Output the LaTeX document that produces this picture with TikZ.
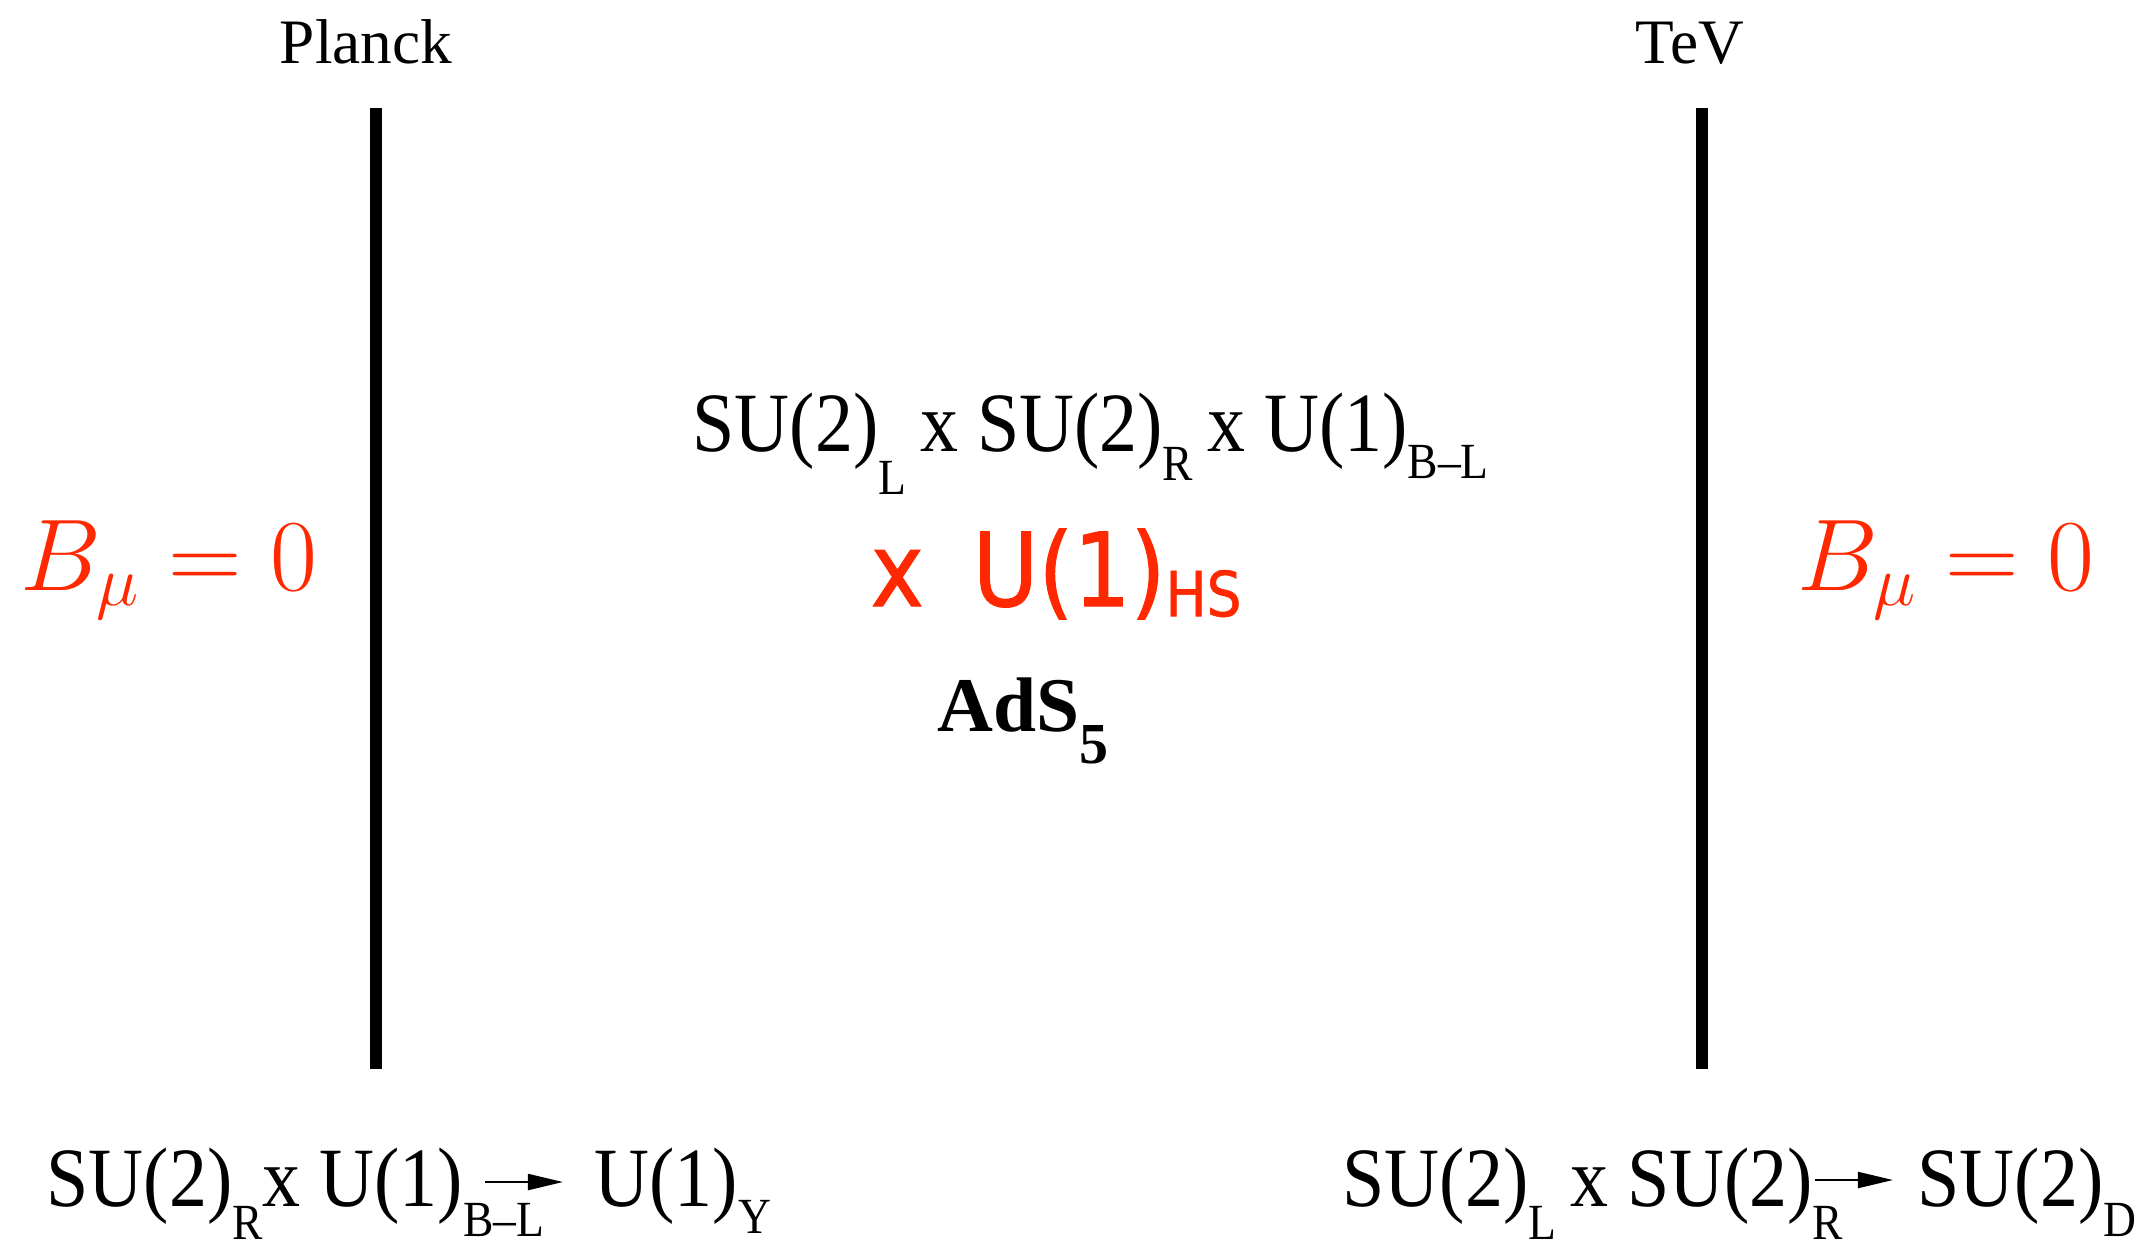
\RequirePackage{fix-cm}
\documentclass[tikz,border=0pt]{standalone}
\usepackage[no-math]{fontspec}
\setmainfont{Liberation Serif}
\newfontfamily\gaugefont[FakeStretch=0.9]{Liberation Serif}
\newfontfamily\handfont[FakeBold=1,FakeStretch=0.88]{DejaVu Sans}
\usetikzlibrary{arrows.meta}
\definecolor{braneRed}{RGB}{255,40,0}
% lowered subscript, as in the original slide
\newcommand{\sub}[2][0.45]{\raisebox{-#1em}{\scalebox{0.6}{#2}}}
\begin{document}
\begin{tikzpicture}[x=0.01cm,y=-0.01cm,
  brane/.style={line width=3.5pt},
  lbl/.style={inner sep=0pt, anchor=base west},
  gauge/.style={lbl, font=\gaugefont\fontsize{24}{28}\selectfont},
  bc/.style={lbl, text=braneRed, font=\fontsize{29}{33}\selectfont},
  brk/.style={line width=0.6pt, -{Triangle[length=0.35cm,width=0.16cm]}}]
\useasboundingbox (0,0) rectangle (2141,1247);

% branes
\coordinate (plTop) at (376,108);
\coordinate (plBot) at (376,1069);
\coordinate (tvTop) at (1702,108);
\coordinate (tvBot) at (1702,1069);
\draw[brane] (plTop) -- (plBot);
\draw[brane] (tvTop) -- (tvBot);
\node[lbl, anchor=base, font=\fontsize{18}{22}\selectfont] (planck) at (366,63) {Planck};
\node[lbl, anchor=base, font=\fontsize{18}{22}\selectfont] (tev) at (1690,63) {TeV};

% boundary conditions
\node[bc] (bcL) at (20,590) {$B_\mu = 0$};
\node[bc] (bcR) at (1797,590) {$B_\mu = 0$};

% bulk
\node[gauge] (bulk) at (692,451) {SU(2)\sub[0.51]{L}\,x SU(2)\sub[0.35]{R}\,x U(1)\sub[0.33]{B\textendash L}};
\node[lbl, text=braneRed, font=\handfont\fontsize{29}{34}\selectfont] (hs) at (870,606)
  {x\hspace{0.2em} U(1)\raisebox{-0.1em}{\scalebox{0.61}{HS}}};
\node[lbl, font=\bfseries\fontsize{22}{26}\selectfont] (ads) at (937,731)
  {AdS\raisebox{-0.42em}{\scalebox{0.75}{5}}};

% breaking on the branes
\node[gauge] (uvSrc) at (46,1206) {SU(2)\sub[0.4]{R}x U(1)\sub[0.36]{B\textendash L}};
\node[gauge] (uvDst) at (594,1206) {U(1)\sub[0.33]{Y}};
\coordinate (uvArr) at (485,1182);
\coordinate (uvEnd) at ([xshift=-0.31cm]uvDst.west);
\draw[brk] (uvArr) -- (uvEnd |- uvArr);

\node[gauge] (irSrc) at (1342,1206) {SU(2)\sub[0.4]{L}\,x SU(2)\sub[0.4]{R}};
\node[gauge] (irDst) at (1917,1206) {SU(2)\sub[0.36]{D}};
\coordinate (irArr) at (1815,1180);
\coordinate (irEnd) at ([xshift=-0.24cm]irDst.west);
\draw[brk] (irArr) -- (irEnd |- irArr);
\end{tikzpicture}
\end{document}
